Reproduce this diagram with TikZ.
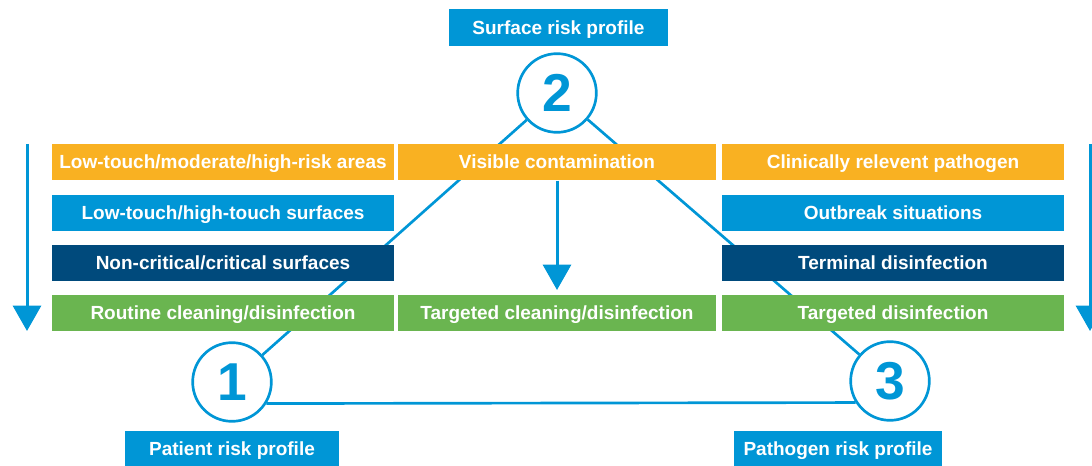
\documentclass[tikz,border=0pt]{standalone}
\usepackage{fontspec}
\setmainfont{Liberation Sans}
\usepackage{tikz}
\usetikzlibrary{arrows.meta}

\definecolor{riskorange}{HTML}{F9B122}
\definecolor{risklight}{HTML}{0096D6}
\definecolor{riskdark}{HTML}{004A7C}
\definecolor{riskgreen}{HTML}{6AB550}

\begin{document}
\begin{tikzpicture}[x=0.75pt,y=-0.75pt,
    box/.style={fill=#1, text=white, inner sep=0pt, minimum height=27.5pt,
        text height=10.2pt, text depth=0pt,
        font=\fontsize{14.25}{16}\selectfont\bfseries},
    sidebox/.style={box=#1, minimum width=256.5pt},
    num/.style={circle, draw=risklight, line width=2pt, fill=white, minimum size=59pt,
        inner sep=0pt, text=risklight, font=\fontsize{40}{40}\selectfont\bfseries},
    link/.style={draw=risklight, line width=2pt},
    flow/.style={risklight, line width=2.25pt, -{Triangle[width=21pt,length=19pt]}}]
    \useasboundingbox (0,0) rectangle (1092,466);
                % the three profiles
                \node[num] (two) at (557,93) {2};
                \node[num] (one) at (232,382) {1};
                \node[num] (three) at (890,381) {3};
                \draw[link] (two) -- (one);
                \draw[link] (two) -- (three);
                \draw[link] (one.-32) -- (three.212);
                \node[box=risklight, minimum width=164pt] (surf) at (558.5,27.5) {Surface risk profile};
                \node[box=risklight, minimum width=160.5pt] (pat) at (232,449) {Patient risk profile};
                \node[box=risklight, minimum width=156pt] (path) at (838,449) {Pathogen risk profile};
                % left column
                \node[sidebox=riskorange] (areas) at (223,162) {Low-touch/moderate/high-risk areas};
                \node[sidebox=risklight] (touch) at (223,213) {Low-touch/high-touch surfaces};
                \node[sidebox=riskdark] (crit) at (223,263) {Non-critical/critical surfaces};
                \node[sidebox=riskgreen] (routine) at (223,313) {Routine cleaning/disinfection};
                % middle column
                \node[box=riskorange, minimum width=238.5pt] (vis) at (557,162) {Visible contamination};
                \node[box=riskgreen, minimum width=238.5pt] (targ) at (557,313) {Targeted cleaning/disinfection};
                \coordinate (vistip) at (557,290);
                \draw[flow] (vis.south) -- (vistip);
                % right column
                \node[sidebox=riskorange] (clin) at (893,162) {Clinically relevent pathogen};
                \node[sidebox=risklight] (outb) at (893,213) {Outbreak situations};
                \node[sidebox=riskdark] (term) at (893,263) {Terminal disinfection};
                \node[sidebox=riskgreen] (tdis) at (893,313) {Targeted disinfection};
                % side arrows
                \coordinate (ltop) at (27,144);
                \coordinate (lend) at (27,331);
                \coordinate (rtop) at (1090,144);
                \coordinate (rend) at (1090,331);
                \draw[flow] (ltop) -- (lend);
                \draw[flow] (rtop) -- (rend);
\end{tikzpicture}
\end{document}
